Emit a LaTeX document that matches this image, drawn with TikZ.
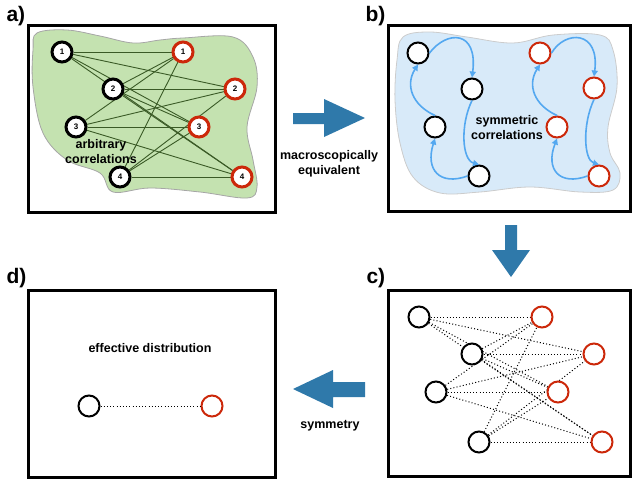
\documentclass[tikz,border=0pt]{standalone}
\usepackage{fontspec}
\setmainfont{Liberation Sans}
\usetikzlibrary{arrows.meta,backgrounds}
\definecolor{blobgreen}{RGB}{196,226,176}
\definecolor{edgegreen}{RGB}{58,90,38}
\definecolor{blobblue}{RGB}{216,234,249}
\definecolor{symblue}{RGB}{84,168,240}
\definecolor{bigblue}{RGB}{47,121,170}
\definecolor{redring}{RGB}{204,40,10}
\begin{document}
\begin{tikzpicture}[x=1pt,y=-1pt,
    panel/.style={draw,line width=3pt},
    tag/.style={anchor=base west,font=\fontsize{21}{21}\selectfont\bfseries},
    txt/.style={align=center,font=\fontsize{12.5}{15}\selectfont\bfseries},
    lft/.style={circle,draw=black,fill=white,line width=2pt,minimum size=21pt,inner sep=0pt},
    rgt/.style={lft,draw=redring},
    num/.style={line width=3pt,minimum size=20pt,font=\fontsize{8}{8}\selectfont\bfseries},
    corr/.style={edgegreen,line width=0.9pt},
    sym/.style={symblue,line width=1.6pt,-{Triangle[length=6pt,width=6pt]}},
    dots/.style={line width=1pt,dash pattern=on 1pt off 2.2pt}]
  \useasboundingbox (0,0) rectangle (632,483);

  % panel a
  \draw[panel] (28,25) rectangle (275,212);
  \begin{scope}[on background layer]
    \filldraw[fill=blobgreen,draw=gray!70,line width=0.8pt] plot[smooth cycle,tension=0.6] coordinates {
      (37,33) (67,30) (100,36) (133,43) (160,40) (183,38) (233,37) (253,57) (257,87) (247,127)
      (253,160) (257,187) (247,198) (200,192) (150,188) (113,192) (100,173) (67,160) (43,133) (33,87) (33,50)};
  \end{scope}
  \node[lft,num] (la1) at (62,52) {1};
  \node[lft,num] (la2) at (113,89) {2};
  \node[lft,num] (la3) at (76,127) {3};
  \node[lft,num] (la4) at (120,177) {4};
  \node[rgt,num] (ra1) at (183,52) {1};
  \node[rgt,num] (ra2) at (235,89) {2};
  \node[rgt,num] (ra3) at (199,127) {3};
  \node[rgt,num] (ra4) at (242,177) {4};
  \begin{scope}[on background layer]
    \foreach \i in {1,...,4}{
      \foreach \j in {1,...,4}{
        \draw[corr] (la\i) -- (ra\j);
      }
    }
  \end{scope}
  \node[txt] (arb) at (101,152) {arbitrary\\correlations};
  \node[tag] (ta) at (3,21) {a)};

  % arrow a -> b
  \fill[bigblue] (293,113) -- (324,113) -- (324,99) -- (365,118) -- (324,137) -- (324,124) -- (293,124) -- cycle;
  \node[txt] (mac) at (329,164) {macroscopically\\equivalent};

  % panel b
  \draw[panel] (388,25) rectangle (630,211);
  \filldraw[fill=blobblue,draw=gray!40,line width=0.8pt] plot[smooth cycle,tension=0.6] coordinates {
    (403,37) (430,32) (467,37) (513,43) (553,35) (600,35) (613,50) (617,87) (608,127) (610,153)
    (620,173) (613,190) (580,192) (530,187) (480,192) (440,193) (413,177) (400,143) (395,100) (397,60)};
  \node[lft] (lb1) at (418,53) {};
  \node[lft] (lb2) at (472,89) {};
  \node[lft] (lb3) at (435,127) {};
  \node[lft] (lb4) at (479,176) {};
  \node[rgt] (rb1) at (540,53) {};
  \node[rgt] (rb2) at (594,88) {};
  \node[rgt] (rb3) at (557,127) {};
  \node[rgt] (rb4) at (599,176) {};
  \draw[sym] (lb1.east) .. controls (447,30) and (478,30) .. (lb2.north);
  \draw[sym] (lb2.south) .. controls (460,125) and (462,160) .. (lb4.north);
  \draw[sym] (lb4.west) .. controls (440,186) and (425,170) .. (lb3.south);
  \draw[sym] (lb3.north) .. controls (412,105) and (405,85) .. (lb1.south);
  \draw[sym] (rb1.east) .. controls (565,30) and (600,30) .. (rb2.north);
  \draw[sym] (rb2.south) .. controls (582,125) and (584,160) .. (rb4.north);
  \draw[sym] (rb4.west) .. controls (560,186) and (545,170) .. (rb3.south);
  \draw[sym] (rb3.north) .. controls (534,105) and (527,85) .. (rb1.south);
  \node[txt] (sym) at (507,128) {symmetric\\correlations};
  \node[tag] (tb) at (362,21) {b)};

  % arrow b -> c
  \fill[bigblue] (505,225) -- (517,225) -- (517,250) -- (530,250) -- (511,277) -- (492,250) -- (505,250) -- cycle;

  % panel c
  \draw[panel] (388,290) rectangle (630,476);
  \node[lft] (lc1) at (419,317) {};
  \node[lft] (lc2) at (472,354) {};
  \node[lft] (lc3) at (436,392) {};
  \node[lft] (lc4) at (479,442) {};
  \node[rgt] (rc1) at (542,317) {};
  \node[rgt] (rc2) at (594,354) {};
  \node[rgt] (rc3) at (558,392) {};
  \node[rgt] (rc4) at (602,442) {};
  \begin{scope}[on background layer]
    \foreach \i in {1,...,4}{
      \foreach \j in {1,...,4}{
        \draw[dots] (lc\i) -- (rc\j);
      }
    }
  \end{scope}
  \node[tag] (tc) at (363,283) {c)};

  % arrow c -> d
  \fill[bigblue] (365,382) -- (333,382) -- (333,370) -- (293,389) -- (333,408) -- (333,397) -- (365,397) -- cycle;
  \node[txt] (symm) at (330,426) {symmetry};

  % panel d
  \draw[panel] (28,290) rectangle (275,477);
  \node[txt] (eff) at (150,348) {effective distribution};
  \node[lft] (ld) at (89,406) {};
  \node[rgt] (rd) at (212,406) {};
  \draw[dots] (ld) -- (rd);
  \node[tag] (td) at (3,283) {d)};
\end{tikzpicture}
\end{document}
